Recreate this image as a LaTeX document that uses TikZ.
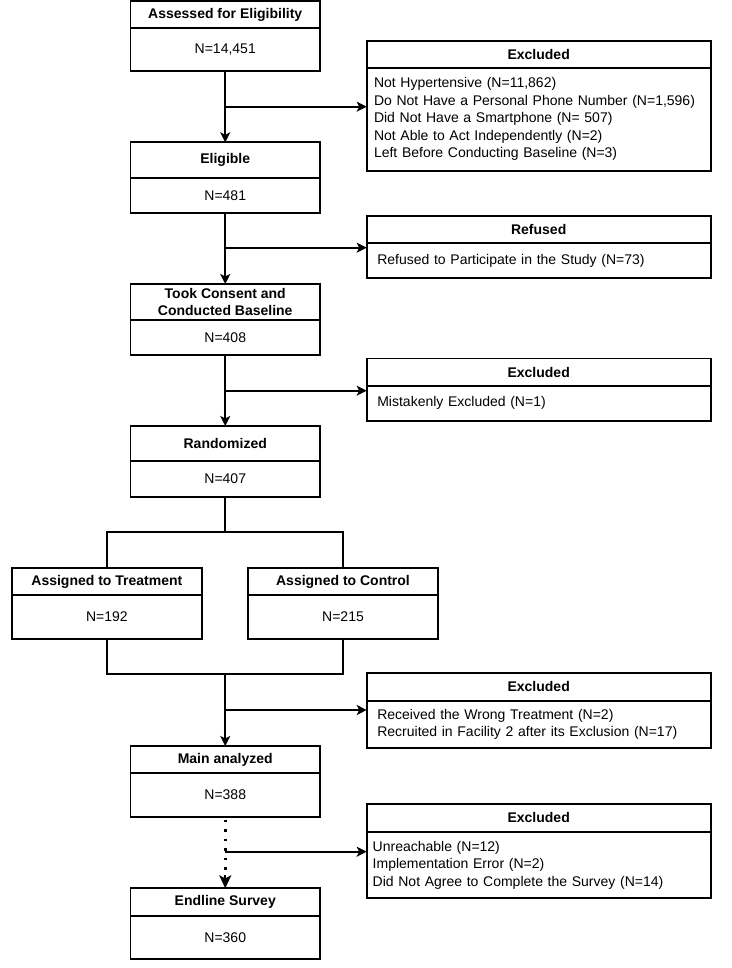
\documentclass[tikz,border=0pt]{standalone}
\usepackage{fontspec}
\setmainfont{Liberation Sans}
\usetikzlibrary{arrows.meta}
\begin{document}
\begin{tikzpicture}[x=1bp,y=-1bp,
  every node/.style={inner sep=0pt, outer sep=0pt, anchor=north west,
    font=\fontsize{14bp}{17.5bp}\selectfont},
  bx/.style={draw, line width=1.8bp, align=center},
  mw/.style={minimum width=189.5bp},
  rw/.style={minimum width=344bp},
  hd/.style={font=\fontsize{14bp}{16.7bp}\selectfont\bfseries},
  conn/.style={line width=1.8bp},
  tipA/.style={-{Stealth[length=10bp,width=10bp,inset=2.5bp]}},
  arr/.style={conn, tipA},
  dotline/.style={line width=2.5bp, dash pattern=on 2.5bp off 7bp, dash phase=-3bp},
]
\path[use as bounding box, fill=white] (0,0) rectangle (732,968);

% main column
\node[bx,mw,hd,minimum height=27bp]   (a1h) at (130.5,1) {Assessed for Eligibility};
\node[bx,mw,minimum height=43bp]      (a1b) at (130.5,28) {N=14,451};
\node[bx,mw,hd,minimum height=35.4bp] (a2h) at (130.5,142.3) {Eligible};
\node[bx,mw,minimum height=35bp]      (a2b) at (130.5,177.7) {N=481};
\node[bx,mw,hd,minimum height=36bp]   (a3h) at (130.5,284) {Took Consent and\\Conducted Baseline};
\node[bx,mw,minimum height=35bp]      (a3b) at (130.5,320) {N=408};
\node[bx,mw,hd,minimum height=35bp]   (a4h) at (130.5,426) {Randomized};
\node[bx,mw,minimum height=36bp]      (a4b) at (130.5,461) {N=407};
\node[bx,minimum width=189.7bp,hd,minimum height=27.6bp] (tH) at (12,567.7) {Assigned to Treatment};
\node[bx,minimum width=189.7bp,minimum height=43.4bp]    (tB) at (12,595.3) {N=192};
\node[bx,minimum width=190bp,hd,minimum height=27bp]     (cH) at (248,568) {Assigned to Control};
\node[bx,minimum width=190bp,minimum height=44bp]        (cB) at (248,595) {N=215};
\node[bx,mw,hd,minimum height=27.3bp] (a7h) at (130.5,746) {Main analyzed};
\node[bx,mw,minimum height=43.4bp]    (a7b) at (130.5,773.3) {N=388};
\node[bx,mw,hd,minimum height=27.4bp] (a8h) at (130.5,888.3) {Endline Survey};
\node[bx,mw,minimum height=43.3bp]    (a8b) at (130.5,915.7) {N=360};

% side boxes
\node[bx,rw,hd,minimum height=27bp] (e1h) at (366.7,40.7) {Excluded};
\node[bx,rw,minimum height=103bp,align=left,text width=329.4bp,inner xsep=7.3bp] (e1b) at (366.7,67.7)
  {Not Hypertensive (N=11,862)\\Do Not Have a Personal Phone Number (N=1,596)\\Did Not Have a Smartphone (N= 507)\\Not Able to Act Independently (N=2)\\Left Before Conducting Baseline (N=3)};
\node[bx,rw,hd,minimum height=27bp] (rh) at (366.7,215.7) {Refused};
\node[bx,rw,minimum height=35.6bp,align=left,text width=322.8bp,inner xsep=10.6bp] (rb) at (366.7,242.7)
  {Refused to Participate in the Study (N=73)};
\node[bx,rw,hd,minimum height=27.2bp] (e2h) at (366.7,358.5) {Excluded};
\node[bx,rw,minimum height=35.3bp,align=left,text width=322.8bp,inner xsep=10.6bp] (e2b) at (366.7,385.7)
  {Mistakenly Excluded (N=1)};
\node[bx,rw,hd,minimum height=28bp] (e3h) at (366.7,672.7) {Excluded};
\node[bx,rw,minimum height=47bp,align=left,text width=322.8bp,inner xsep=10.6bp] (e3b) at (366.7,700.7)
  {Received the Wrong Treatment (N=2)\\Recruited in Facility 2 after its Exclusion (N=17)};
\node[bx,rw,hd,minimum height=27.7bp] (e4h) at (366.7,804) {Excluded};
\node[bx,rw,minimum height=66.6bp,align=left,text width=332bp,inner xsep=6bp] (e4b) at (366.7,831.7)
  {Unreachable (N=12)\\Implementation Error (N=2)\\Did Not Agree to Complete the Survey (N=14)};

% junctions
\path (a1b.south) ++(0,35.7) coordinate (j1);
\path (a2b.south) ++(0,35) coordinate (j2);
\path (a3b.south) ++(0,35.7) coordinate (j3);
\path (a4b.south) ++(0,35) coordinate (split);
\path (tB.south) ++(0,35.3) coordinate (mt);
\coordinate (merge) at (a7h.north |- mt);
\path (merge) ++(0,36) coordinate (j4);
\path (a7b.south) ++(0,35) coordinate (j5);
\path (a8h.north) ++(0,-13) coordinate (dtip);

% connectors
\draw[arr] (a1b.south) -- (a2h.north);
\draw[arr] (j1) -- (j1 -| e1b.west);
\draw[arr] (a2b.south) -- (a3h.north);
\draw[arr] (j2) -- (j2 -| rb.west);
\draw[arr] (a3b.south) -- (a4h.north);
\draw[arr] (j3) -- (j3 -| e2b.west);
\draw[conn] (a4b.south) -- (split);
\draw[conn] (tH.north) |- (split) -| (cH.north);
\draw[conn] (tB.south) |- (merge) -| (cB.south);
\draw[arr] (merge) -- (a7h.north);
\draw[arr] (j4) -- (j4 -| e3b.west);
\draw[dotline] (a7b.south) -- (dtip);
\draw[conn, -{Stealth[length=13bp,width=12bp,inset=3bp]}] (dtip) -- (a8h.north);
\draw[arr] (j5) -- (j5 -| e4b.west);
\end{tikzpicture}
\end{document}
